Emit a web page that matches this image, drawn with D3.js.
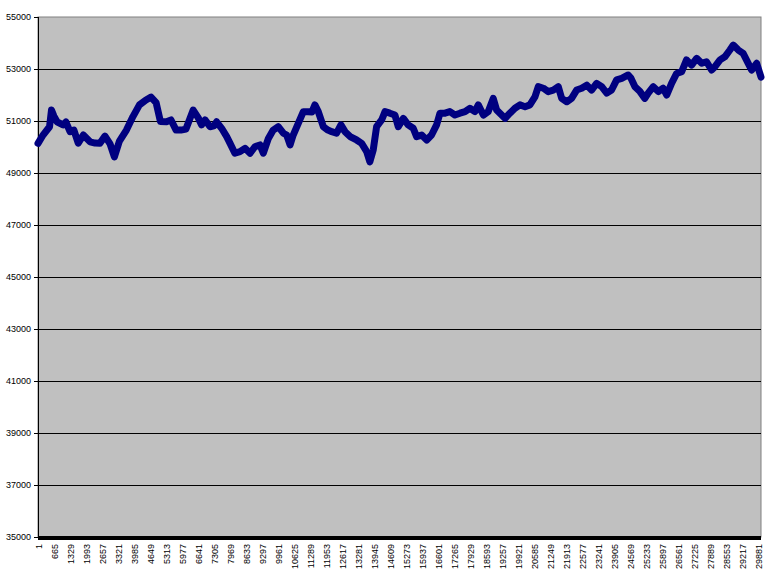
<!DOCTYPE html>
<meta charset="utf-8">
<head>
<style type="text/css">
  body { margin: 0; background: #fff; }
  .axis text { font-family: "Liberation Sans", Arial, sans-serif; font-size: 9px; fill: #000; }
  .axis path { display: none; }
</style>
</head>
<script src="https://d3js.org/d3.v7.min.js"></script>
<body>
<div id="vis"></div>
<script>
var width = 769,
    height = 577;

var obsIndex = [1, 210, 480, 560, 660, 790, 1040, 1160, 1330, 1490, 1670, 1880, 2160, 2370, 2570, 2780, 2990, 3170, 3380, 3670,
  3940, 4210, 4480, 4690, 4900, 5080, 5330, 5520, 5730, 5930, 6140, 6440, 6650, 6790, 6930, 7140, 7300, 7410, 7620, 7830,
  7970, 8170, 8380, 8590, 8800, 9000, 9210, 9350, 9560, 9760, 9970, 10180, 10320, 10460, 10590, 10800, 11010, 11210, 11370, 11490,
  11630, 11840, 12030, 12190, 12390, 12570, 12740, 12950, 13220, 13430, 13640, 13770, 13910, 14050, 14260, 14400, 14600, 14810, 14950, 15160,
  15360, 15570, 15710, 15920, 16130, 16330, 16540, 16680, 16890, 17090, 17300, 17510, 17720, 17920, 18130, 18270, 18480, 18680, 18890, 19030,
  19240, 19380, 19580, 19790, 20000, 20210, 20410, 20620, 20760, 20970, 21170, 21380, 21590, 21730, 21940, 22140, 22350, 22560, 22770, 22970,
  23180, 23390, 23600, 23800, 24010, 24220, 24490, 24600, 24770, 24980, 25180, 25320, 25530, 25740, 25940, 26090, 26290, 26500, 26710, 26910,
  27120, 27330, 27540, 27740, 27950, 28090, 28300, 28500, 28710, 28850, 29060, 29260, 29470, 29610, 29820, 30000];
var obsValue = [50140, 50460, 50780, 51420, 51190, 50970, 50850, 50960, 50590, 50650, 50150, 50460, 50200, 50150, 50140, 50420, 50120, 49620, 50230, 50650,
  51170, 51620, 51810, 51920, 51710, 50980, 50970, 51040, 50650, 50650, 50690, 51420, 51120, 50850, 51040, 50780, 50810, 50970, 50720, 50400,
  50140, 49760, 49820, 49950, 49760, 50010, 50080, 49760, 50330, 50650, 50780, 50530, 50460, 50080, 50460, 50910, 51360, 51360, 51350, 51620,
  51360, 50780, 50650, 50590, 50530, 50850, 50590, 50400, 50270, 50140, 49820, 49430, 49880, 50780, 51040, 51360, 51300, 51230, 50780, 51100,
  50850, 50720, 50400, 50460, 50270, 50460, 50850, 51300, 51300, 51360, 51230, 51300, 51360, 51490, 51360, 51620, 51230, 51360, 51870, 51420,
  51230, 51100, 51300, 51490, 51620, 51550, 51620, 51930, 52320, 52260, 52130, 52190, 52320, 51870, 51740, 51870, 52190, 52260, 52380, 52190,
  52450, 52320, 52070, 52190, 52580, 52640, 52770, 52650, 52320, 52130, 51870, 52070, 52320, 52130, 52260, 52000, 52450, 52830, 52900, 53350,
  53150, 53410, 53220, 53280, 52960, 53090, 53350, 53470, 53730, 53920, 53730, 53600, 53220, 52960, 53220, 52690];

var xLabels = [1, 665, 1329, 1993, 2657, 3321, 3985, 4649, 5313, 5977, 6641, 7305, 7969, 8633, 9297, 9961, 10625, 11289, 11953, 12617,
  13281, 13945, 14609, 15273, 15937, 16601, 17265, 17929, 18593, 19257, 19921, 20585, 21249, 21913, 22577, 23241, 23905, 24569, 25233, 25897,
  26561, 27225, 27889, 28553, 29217, 29881];
var yTicks = [35000, 37000, 39000, 41000, 43000, 45000, 47000, 49000, 51000, 53000, 55000];

var nObs = 30000;
var margin = {top: 17, left: 38, bottom: 40, right: 8};
var chartWidth = width - margin.left - margin.right,
    chartHeight = height - margin.top - margin.bottom;

var svg = d3.select("#vis").append("svg")
    .attr("width", width)
    .attr("height", height)
  .append("g")
    .attr("transform", "translate(" + margin.left + "," + margin.top + ")");

var x = d3.scaleLinear().domain([0.5, nObs + 0.5]).range([0, chartWidth]);
var y = d3.scaleLinear().domain([35000, 55000]).range([chartHeight, 0]);

// plot area
svg.append("rect")
    .attr("width", chartWidth)
    .attr("height", chartHeight)
    .attr("fill", "#c0c0c0")
    .attr("stroke", "#808080");

// gridlines
svg.selectAll(".grid").data(yTicks.slice(1, -1))
  .enter().append("line")
    .attr("class", "grid")
    .attr("x1", 0).attr("x2", chartWidth)
    .attr("y1", function(d) { return Math.round(y(d)) + 0.5; })
    .attr("y2", function(d) { return Math.round(y(d)) + 0.5; })
    .attr("stroke", "#000");

// y axis
var yAxis = svg.append("g").attr("class", "axis")
    .call(d3.axisLeft(y).tickValues(yTicks).tickSize(4).tickPadding(3).tickFormat(d3.format("d")));
yAxis.selectAll("line").attr("stroke", "#000");
svg.append("line")
    .attr("x1", 0.5).attr("x2", 0.5)
    .attr("y1", 0).attr("y2", chartHeight)
    .attr("stroke", "#000");

// the series
var line = d3.line()
    .x(function(d, i) { return x(obsIndex[i]); })
    .y(function(d) { return y(d); });

svg.append("path")
    .datum(obsValue)
    .attr("fill", "none")
    .attr("stroke", "#000080")
    .attr("stroke-width", 7)
    .attr("stroke-linejoin", "round")
    .attr("stroke-linecap", "round")
    .attr("d", line);

// category axis (dense tick marks form a solid band)
svg.append("rect")
    .attr("x", 0)
    .attr("y", chartHeight - 1)
    .attr("width", chartWidth)
    .attr("height", 4)
    .attr("fill", "#000");

var xAxis = svg.append("g").attr("class", "axis")
    .attr("transform", "translate(0," + chartHeight + ")")
    .call(d3.axisBottom(x).tickValues(xLabels).tickSize(0).tickFormat(d3.format("d")));
xAxis.selectAll("text")
    .attr("transform", "rotate(-90)")
    .attr("x", -7)
    .attr("y", 0)
    .attr("dy", "0.35em")
    .style("text-anchor", "end");
</script>
</body>
